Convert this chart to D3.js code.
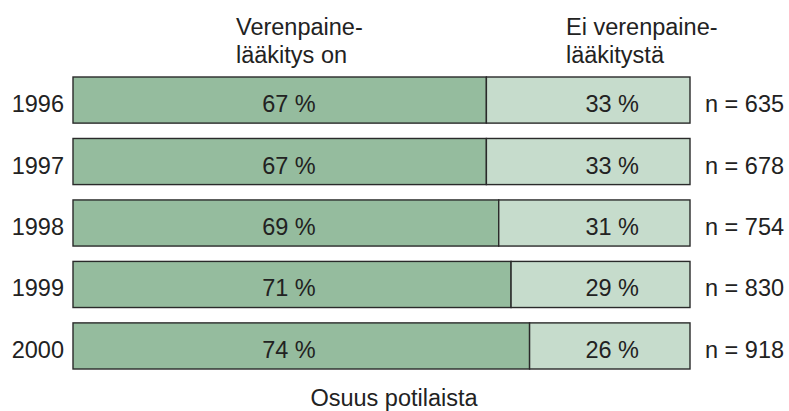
<!DOCTYPE html>
<html>
<head>
<meta charset="utf-8">
<script src="https://cdn.jsdelivr.net/npm/d3@7"></script>
<style>
  html, body { margin: 0; padding: 0; background: #fff; }
  svg text { font-family: "Liberation Sans", Arial, Helvetica, sans-serif; fill: #222; }
</style>
</head>
<body>
<svg id="chart" width="789" height="411"></svg>
<script>
const years = ["1996", "1997", "1998", "1999", "2000"];
const medicated = [67, 67, 69, 71, 74];
const notMedicated = [33, 33, 31, 29, 26];
const nCounts = [635, 678, 754, 830, 918];
const seriesNames = [["Verenpaine-", "lääkitys on"], ["Ei verenpaine-", "lääkitystä"]];
const xTitle = "Osuus potilaista";
const colors = ["#95bc9e", "#c6dccc"];

const svg = d3.select("#chart");
const x = d3.scaleLinear().domain([0, 100]).range([73, 690]);
const y = d3.scaleBand().domain(years).range([77, 369]).paddingInner(0.25).paddingOuter(0);

const fs = 23.5;

const rows = years.map((yr, i) => ({ yr, a: medicated[i], b: notMedicated[i], n: nCounts[i] }));

const g = svg.append("g");
const row = g.selectAll("g.row").data(rows).enter().append("g").attr("class", "row");

row.append("rect")
  .attr("x", x(0)).attr("y", d => y(d.yr))
  .attr("width", d => x(d.a) - x(0)).attr("height", y.bandwidth())
  .attr("fill", colors[0]).attr("stroke", "#2a2a2a").attr("stroke-width", 1.4);
row.append("rect")
  .attr("x", d => x(d.a)).attr("y", d => y(d.yr))
  .attr("width", d => x(d.a + d.b) - x(d.a)).attr("height", y.bandwidth())
  .attr("fill", colors[1]).attr("stroke", "#2a2a2a").attr("stroke-width", 1.4);

const mid = d => y(d.yr) + y.bandwidth() / 2 + 12;

row.append("text").attr("x", 289).attr("y", mid).attr("text-anchor", "middle")
  .attr("font-size", fs).text(d => d.a + " %");
row.append("text").attr("x", 639).attr("y", mid).attr("text-anchor", "end")
  .attr("font-size", fs).text(d => d.b + " %");
row.append("text").attr("x", 64).attr("y", mid).attr("text-anchor", "end")
  .attr("font-size", fs).text(d => d.yr);
row.append("text").attr("x", 705).attr("y", mid).attr("text-anchor", "start")
  .attr("font-size", fs).text(d => "n = " + d.n);

const headX = [236, 566];
seriesNames.forEach((lines, si) => {
  lines.forEach((ln, li) => {
    svg.append("text").attr("x", headX[si]).attr("y", 35 + li * 28)
      .attr("font-size", fs).text(ln);
  });
});

svg.append("text").attr("x", 394).attr("y", 406).attr("text-anchor", "middle")
  .attr("font-size", fs).text(xTitle);
</script>
</body>
</html>
